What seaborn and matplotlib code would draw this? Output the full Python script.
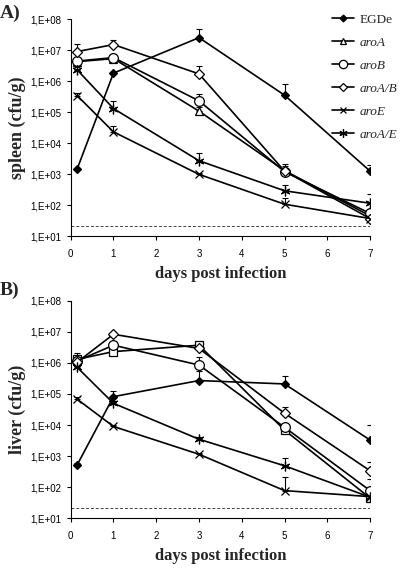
import numpy as np
import pandas as pd
import matplotlib
matplotlib.use('Agg')
import matplotlib.pyplot as plt
import seaborn as sns
from matplotlib.ticker import FuncFormatter, FixedLocator, NullLocator
from matplotlib.lines import Line2D

sns.set_style('ticks')
plt.rcParams['font.family'] = ['Liberation Sans', 'DejaVu Sans']

# data
DAYS = [0.15, 1, 3, 5, 7]
STRAINS = ['EGDe', 'aroA', 'aroB', 'aroA/B', 'aroE', 'aroA/E']

SPLEEN = {
    'EGDe':   [1.45e3, 1.8e6, 2.5e7, 3.5e5, 1.25e3],
    'aroA':   [4.2e6, 5.3e6, 1.07e5, 1.3e3, 45],
    'aroB':   [4.4e6, 5.7e6, 2.3e5, 1.2e3, 54],
    'aroA/B': [8.9e6, 1.5e7, 1.7e6, 1.25e3, 37],
    'aroE':   [3.4e5, 2.3e4, 980, 107, 37],
    'aroA/E': [2.3e6, 1.3e5, 2.7e3, 290, 115],
}
SPLEEN_ERR_TOP = {
    'EGDe':   [1.6e3, 2.0e6, 4.6e7, 8.0e5, 1.9e3],
    'aroA':   [5.0e6, 6.0e6, 1.5e5, 1.8e3, 60],
    'aroB':   [5.2e6, 7.5e6, 3.8e5, 2.1e3, 75],
    'aroA/B': [1.6e7, 2.1e7, 3.0e6, 1.6e3, 45],
    'aroE':   [4.0e5, 3.6e4, 1.1e3, 170, 45],
    'aroA/E': [2.8e6, 2.2e5, 4.8e3, 460, 220],
}
LIVER = {
    'EGDe':   [520, 8.2e4, 2.7e5, 2.1e5, 3.3e3],
    'aroA':   [1.3e6, 2.3e6, 3.7e6, 6.9e3, 45],
    'aroB':   [1.15e6, 3.7e6, 8.5e5, 8.5e3, 78],
    'aroA/B': [1.05e6, 8.3e6, 2.9e6, 2.4e4, 340],
    'aroE':   [6.8e4, 9.0e3, 1.15e3, 78, 50],
    'aroA/E': [7.2e5, 5.0e4, 3.5e3, 490, 48],
}
LIVER_ERR_TOP = {
    'EGDe':   [600, 1.2e5, 5.5e5, 3.9e5, 1.0e4],
    'aroA':   [2.0e6, 2.8e6, 4.5e6, 9.5e3, 60],
    'aroB':   [1.3e6, 4.3e6, 1.5e6, 1.0e4, 180],
    'aroA/B': [1.2e6, 9.0e6, 3.4e6, 3.9e4, 660],
    'aroE':   [8.0e4, 1.0e4, 1.3e3, 210, 60],
    'aroA/E': [8.5e5, 6.0e4, 4.2e3, 850, 60],
}
DETECTION_LIMIT = [21, 21]

STYLE = {
    'EGDe':   dict(marker='D', ms=4.5, mfc='black'),
    'aroA':   dict(marker='^', ms=6, mfc='white'),
    'aroB':   dict(marker='o', ms=7, mfc='white'),
    'aroA/B': dict(marker='D', ms=5, mfc='white'),
    'aroE':   dict(marker='x', ms=6, mfc='white'),
    'aroA/E': dict(marker=(6, 2, 0), ms=7, mfc='white'),
}

fig = plt.figure(figsize=(4.04, 5.69), dpi=100)
ax_a = fig.add_axes([0.175, 0.585, 0.741, 0.3816])
ax_b = fig.add_axes([0.175, 0.089, 0.741, 0.3826])


def panel(ax, values, err_top, ylabel, square_aroA=False):
    for s in STRAINS:
        st = dict(STYLE[s])
        if square_aroA and s == 'aroA':
            st['marker'] = 's'
            st['ms'] = 6
        df = pd.DataFrame({'day': DAYS, 'cfu': values[s]})
        top = np.array(err_top[s]) - np.array(values[s])
        ax.errorbar(DAYS, values[s], yerr=[np.zeros(len(DAYS)), top], fmt='none',
                    ecolor='black', elinewidth=0.8, capsize=2.5, capthick=0.8, zorder=2)
        sns.lineplot(data=df, x='day', y='cfu', ax=ax, color='black', lw=1.2,
                     marker=st['marker'], markersize=st['ms'],
                     markerfacecolor=st['mfc'], markeredgecolor='black',
                     markeredgewidth=0.9, zorder=3)
    ax.plot([0, 7], DETECTION_LIMIT, ls=(0, (3, 2)), lw=0.7, color='#444444', zorder=1)
    ax.set_yscale('log')
    ax.set_ylim(10, 1e8)
    ax.set_xlim(0, 7)
    ax.yaxis.set_major_locator(FixedLocator([10.0 ** k for k in range(1, 9)]))
    ax.yaxis.set_minor_locator(NullLocator())
    ax.yaxis.set_major_formatter(FuncFormatter(lambda v, p: '1,E+%02d' % round(np.log10(v))))
    ax.set_xticks(range(8))
    ax.tick_params(labelsize=7, length=3, width=0.8, colors='black')
    ax.tick_params(axis='x', pad=6)
    for sp in ['left', 'bottom']:
        ax.spines[sp].set_linewidth(0.8)
        ax.spines[sp].set_color('black')
    sns.despine(ax=ax)
    ax.set_xlabel('days post infection', family='Liberation Serif', fontweight='bold',
                  fontsize=12, labelpad=5)
    ax.set_ylabel(ylabel, family='Liberation Serif', fontweight='bold', fontsize=13, labelpad=3)


panel(ax_a, SPLEEN, SPLEEN_ERR_TOP, 'spleen (cfu/g)')
panel(ax_b, LIVER, LIVER_ERR_TOP, 'liver (cfu/g)', square_aroA=True)

fig.text(0.0, 0.992, 'A)', family='Liberation Serif', fontweight='bold', fontsize=14, va='top')
fig.text(0.0, 0.505, 'B)', family='Liberation Serif', fontweight='bold', fontsize=14, va='top')

handles = []
for s in STRAINS:
    st = STYLE[s]
    handles.append(Line2D([], [], color='black', lw=1.2, marker=st['marker'],
                          markersize=st['ms'] - 1, markerfacecolor=st['mfc'],
                          markeredgecolor='black', markeredgewidth=0.9))
leg = fig.legend(handles, STRAINS, loc='upper right', bbox_to_anchor=(1.012, 0.997),
                 frameon=False, handlelength=1.7, handletextpad=0.4, labelspacing=0.82,
                 prop={'family': 'Liberation Serif', 'size': 9.5})
for t in leg.get_texts():
    if t.get_text() != 'EGDe':
        t.set_fontstyle('italic')

fig.savefig('out.png', dpi=100)
